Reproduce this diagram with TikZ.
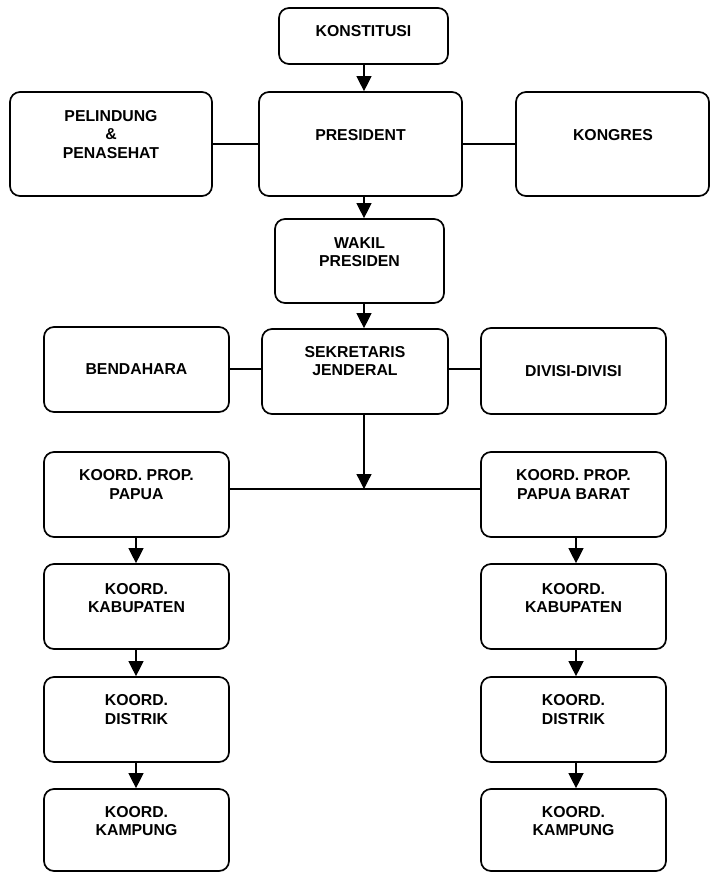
\documentclass[tikz,border=0pt]{standalone}
\usepackage{fontspec}
\setmainfont{Liberation Sans}
\usetikzlibrary{arrows.meta}
\begin{document}
\begin{tikzpicture}[x=1pt,y=-1pt,
  box/.style={draw=black, line width=1.7pt, rounded corners=10pt, inner sep=0pt},
  lbl/.style={align=center, inner sep=0pt, font=\fontsize{15.8}{18.5}\selectfont\bfseries},
  conn/.style={draw=black, line width=1.3pt},
  arr/.style={conn, -{Triangle[width=15pt,length=15pt]}}]
\useasboundingbox (0,0) rectangle (711,873);
\newcommand{\bx}[5]{\node[box, minimum width={#4-#2}, minimum height={#5-#3}] (#1) at ({(#2+#4)/2},{(#3+#5)/2}) {};}
\bx{kon}{279}{8}{448}{64}
\bx{pres}{259}{92}{462}{196}
\bx{pel}{10}{92}{212}{196}
\bx{kong}{516}{92}{709}{196}
\bx{wak}{275}{219}{444}{303}
\bx{sek}{262}{329}{448}{414}
\bx{ben}{44}{327}{229}{412}
\bx{div}{481}{328}{666}{414}
\bx{propL}{44}{452}{229}{537}
\bx{propR}{481}{452}{666}{537}
\bx{kabL}{44}{564}{229}{649}
\bx{kabR}{481}{564}{666}{649}
\bx{disL}{44}{677}{229}{762}
\bx{disR}{481}{677}{666}{762}
\bx{kamL}{44}{789}{229}{871}
\bx{kamR}{481}{789}{666}{871}
% labels
\node[lbl] (tkon) at (363.5,31) {KONSTITUSI};
\node[lbl] (tpres) at (360.5,135) {PRESIDENT};
\node[lbl] (tpel) at (111,134.5) {PELINDUNG\\\&\\PENASEHAT};
\node[lbl] (tkong) at (613,135) {KONGRES};
\node[lbl] (twak) at (359.5,252) {WAKIL\\PRESIDEN};
\node[lbl] (tsek) at (355,361) {SEKRETARIS\\JENDERAL};
\node[lbl] (tben) at (136.5,369) {BENDAHARA};
\node[lbl] (tdiv) at (573.5,371) {DIVISI-DIVISI};
\node[lbl] (tpropL) at (136.5,484.5) {KOORD. PROP.\\PAPUA};
\node[lbl] (tpropR) at (573.5,484.5) {KOORD. PROP.\\PAPUA BARAT};
\node[lbl] (tkabL) at (136.5,598) {KOORD.\\KABUPATEN};
\node[lbl] (tkabR) at (573.5,598) {KOORD.\\KABUPATEN};
\node[lbl] (tdisL) at (136.5,709.5) {KOORD.\\DISTRIK};
\node[lbl] (tdisR) at (573.5,709.5) {KOORD.\\DISTRIK};
\node[lbl] (tkamL) at (136.5,821) {KOORD.\\KAMPUNG};
\node[lbl] (tkamR) at (573.5,821) {KOORD.\\KAMPUNG};
% guide coordinates
\coordinate (spine) at (364,0);
\coordinate (colL) at (136,0);
\coordinate (colR) at (576,0);
\coordinate (junc) at (364,489);
% connectors
\draw[arr] (kon.south -| spine) -- (pres.north -| spine);
\draw[arr] (pres.south -| spine) -- (wak.north -| spine);
\draw[arr] (wak.south -| spine) -- (sek.north -| spine);
\draw[conn] (pel.east |- 0,144) -- (pres.west |- 0,144);
\draw[conn] (pres.east |- 0,144) -- (kong.west |- 0,144);
\draw[conn] (ben.east |- 0,369) -- (sek.west |- 0,369);
\draw[conn] (sek.east |- 0,369) -- (div.west |- 0,369);
\draw[arr] (sek.south -| spine) -- (junc);
\draw[conn] (propL.east |- junc) -- (propR.west |- junc);
\draw[arr] (propL.south -| colL) -- (kabL.north -| colL);
\draw[arr] (kabL.south -| colL) -- (disL.north -| colL);
\draw[arr] (disL.south -| colL) -- (kamL.north -| colL);
\draw[arr] (propR.south -| colR) -- (kabR.north -| colR);
\draw[arr] (kabR.south -| colR) -- (disR.north -| colR);
\draw[arr] (disR.south -| colR) -- (kamR.north -| colR);
\end{tikzpicture}
\end{document}
